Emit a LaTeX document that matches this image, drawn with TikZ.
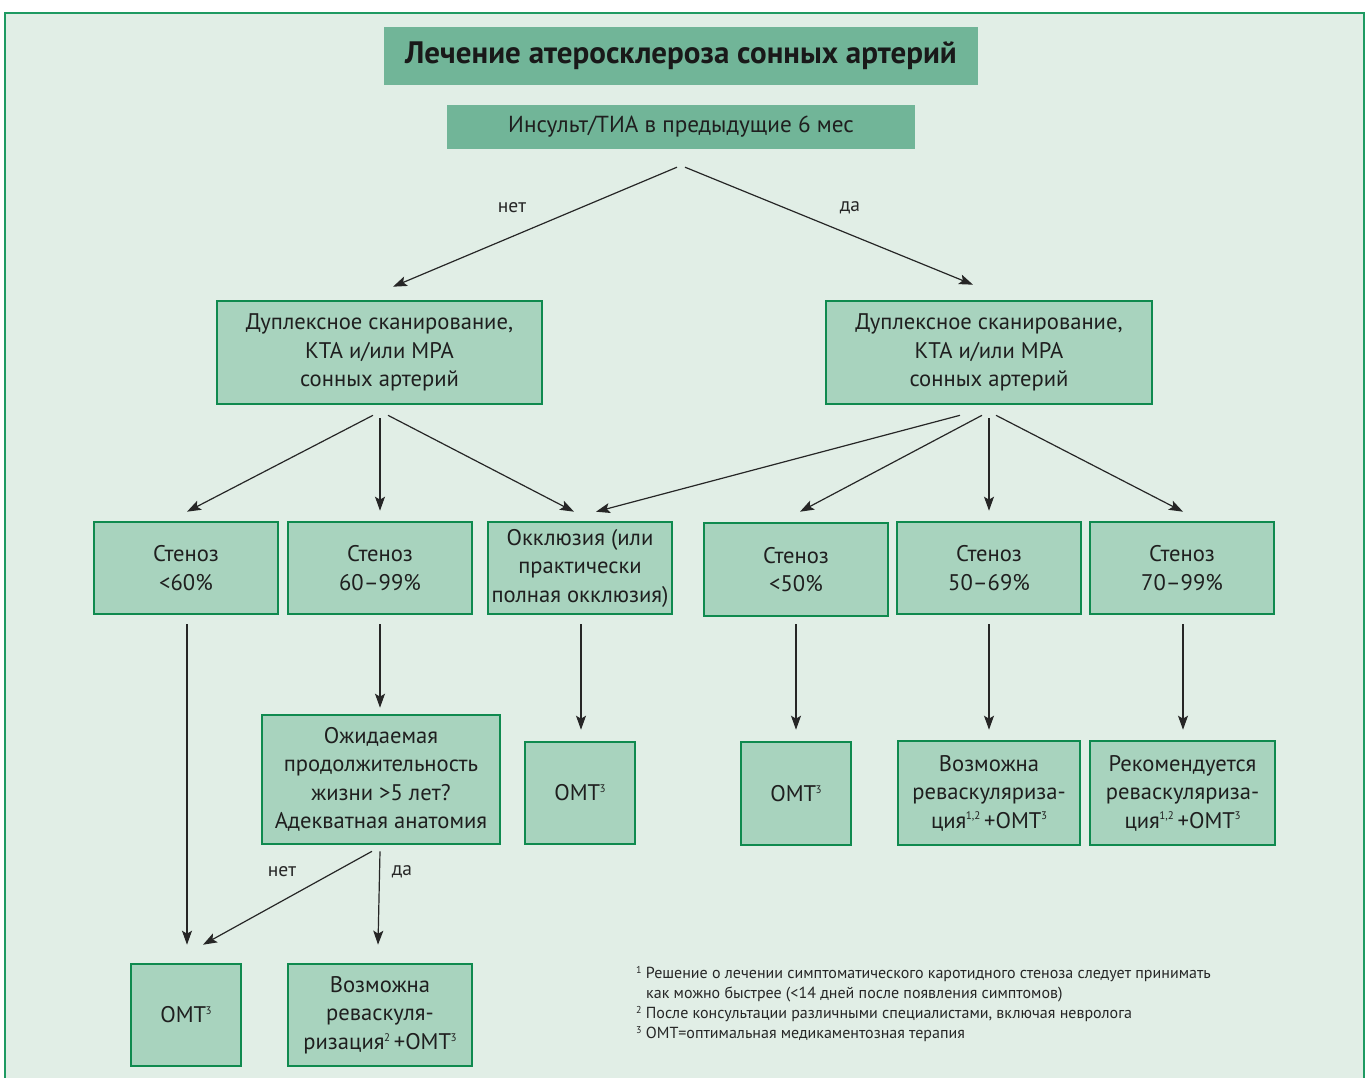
\documentclass[tikz,border=0pt]{standalone}
\usepackage{fontspec}
\setmainfont{PT Sans}
\usetikzlibrary{arrows.meta}
\definecolor{bgc}{HTML}{E1EEE6}
\definecolor{framec}{HTML}{1E9A62}
\definecolor{titlec}{HTML}{71B598}
\definecolor{boxc}{HTML}{A8D3BE}
\definecolor{edgec}{HTML}{0F8A4F}
\newcommand{\supx}[1]{\kern-0.5pt\raisebox{0.36em}{\fontsize{11}{11}\selectfont #1}}
\newcommand{\supf}[1]{\raisebox{0.3em}{\fontsize{10}{10}\selectfont #1}}
\tikzset{
  box/.style={draw=edgec, line width=2.6pt, fill=boxc, align=center, inner sep=0pt,
    font=\fontsize{22.6}{28.5}\selectfont, text=black!88},
  arr/.style={line width=1.2pt, black!85, -{Stealth[length=14pt,width=10pt,inset=3pt]}},
  lbl/.style={font=\fontsize{19.5}{22}\selectfont, text=black!85, inner sep=0pt},
}
\begin{document}
\begin{tikzpicture}[x=1pt,y=-1pt]
\useasboundingbox (0,0) rectangle (1371,1078);
\fill[white] (0,0) rectangle (1371,1078);
\fill[bgc] (5,13) rectangle (1364,1100);
\draw[framec, line width=2pt] (5,1100) -- (5,13) -- (1364,13) -- (1364,1100);

% title and question
\node[fill=titlec, minimum width=594pt, minimum height=58pt, inner sep=0pt,
  font=\fontsize{31}{34}\selectfont\bfseries, text=black!90] (title) at (681,56)
  {Лечение атеросклероза сонных артерий};
\node[fill=titlec, minimum width=468pt, minimum height=44pt, inner sep=0pt,
  font=\fontsize{23.2}{26}\selectfont, text=black!88] (ins) at (681,127)
  {Инсульт/ТИА в предыдущие 6 мес};

% duplex boxes
\node[box, minimum width=325pt, minimum height=103pt] (dupL) at (379.5,352.5)
  {Дуплексное сканирование,\\КТА и/или МРА\\сонных артерий};
\node[box, minimum width=326pt, minimum height=103pt] (dupR) at (989,352.5)
  {Дуплексное сканирование,\\КТА и/или МРА\\сонных артерий};

% row 2
\node[box, minimum width=184pt, minimum height=92pt] (s60) at (186,568) {Стеноз\\<60\%};
\node[box, minimum width=184pt, minimum height=92pt] (s6099) at (380,568) {Стеноз\\60–99\%};
\node[box, minimum width=184pt, minimum height=92pt] (occ) at (580,568)
  {Окклюзия (или\\практически\\полная окклюзия)};
\node[box, minimum width=184pt, minimum height=93pt] (s50) at (796,569.5) {Стеноз\\<50\%};
\node[box, minimum width=184pt, minimum height=92pt] (s5069) at (989,568) {Стеноз\\50–69\%};
\node[box, minimum width=184pt, minimum height=92pt] (s7099) at (1182,568) {Стеноз\\70–99\%};

% row 3
\node[box, minimum width=238pt, minimum height=129pt] (exp) at (381,779.5)
  {Ожидаемая\\продолжительность\\жизни >5 лет?\\Адекватная анатомия};
\node[box, minimum width=110pt, minimum height=102pt] (omtA) at (580,793) {ОМТ\supx{3}};
\node[box, minimum width=110pt, minimum height=103pt] (omtB) at (796,793.5) {ОМТ\supx{3}};
\node[box, minimum width=182pt, minimum height=104pt] (rev1) at (989,793)
  {Возможна\\реваскуляриза-\\ция\supx{1,2}\,+ОМТ\supx{3}};
\node[box, minimum width=185pt, minimum height=104pt] (rev2) at (1182.5,793)
  {Рекомендуется\\реваскуляриза-\\ция\supx{1,2}\,+ОМТ\supx{3}};

% row 4
\node[box, minimum width=110pt, minimum height=102pt] (omtC) at (186,1015) {ОМТ\supx{3}};
\node[box, minimum width=184pt, minimum height=102pt] (rev3) at (380,1015)
  {Возможна\\реваскуля-\\ризация\supx{2}\,+ОМТ\supx{3}};

% connectors
\draw[arr] ([shift={(-4,18)}]ins.south) -- ([shift={(13.5,-13)}]dupL.north);
\draw[arr] ([shift={(4,18)}]ins.south) -- ([shift={(-16,-15)}]dupR.north);
\node[lbl] (no1) at (512,208) {нет};
\node[lbl] (yes1) at (850,208) {да};

\draw[arr] ([shift={(-6.5,10)}]dupL.south) -- ([shift={(1,-9)}]s60.north);
\draw[arr] ([shift={(0.5,13)}]dupL.south) -- ([shift={(0,-10)}]s6099.north);
\draw[arr] ([shift={(8.5,10)}]dupL.south) -- ([shift={(-6,-9)}]occ.north);

\draw[arr] ([shift={(-29,10)}]dupR.south) -- ([shift={(16,-9)}]occ.north);
\draw[arr] ([shift={(-7,10)}]dupR.south) -- ([shift={(4,-10)}]s50.north);
\draw[arr] ([shift={(0,13)}]dupR.south) -- ([shift={(0,-10)}]s5069.north);
\draw[arr] ([shift={(7,10)}]dupR.south) -- ([shift={(1,-9)}]s7099.north);

\draw[arr] ([shift={(1,9)}]s60.south) -- ([shift={(1,-18)}]omtC.north);
\draw[arr] ([shift={(0,9)}]s6099.south) -- ([shift={(-1,-6)}]exp.north);
\draw[arr] ([shift={(1,9)}]occ.south) -- ([shift={(1,-11)}]omtA.north);
\draw[arr] ([shift={(0,7)}]s50.south) -- ([shift={(0,-11)}]omtB.north);
\draw[arr] ([shift={(0,9)}]s5069.south) -- ([shift={(0,-10)}]rev1.north);
\draw[arr] ([shift={(1,9)}]s7099.south) -- ([shift={(0.5,-10)}]rev2.north);

\draw[arr] ([shift={(-9,6)}]exp.south) -- ([shift={(17,-18)}]omtC.north);
\draw[arr] ([shift={(-1,6)}]exp.south) -- ([shift={(-2,-18)}]rev3.north);
\node[lbl] (no2) at (282,872) {нет};
\node[lbl] (yes2) at (402,872) {да};

% footnotes
\node[anchor=north west, align=left, inner sep=0pt, text=black!85,
  font=\fontsize{16}{20}\selectfont] (notes) at (636,966)
  {\supf{1} Решение о лечении симптоматического каротидного стеноза следует принимать\\
   \hspace*{10pt}как можно быстрее (<14 дней после появления симптомов)\\
   \supf{2} После консультации различными специалистами, включая невролога\\
   \supf{3} ОМТ=оптимальная медикаментозная терапия};
\end{tikzpicture}
\end{document}
